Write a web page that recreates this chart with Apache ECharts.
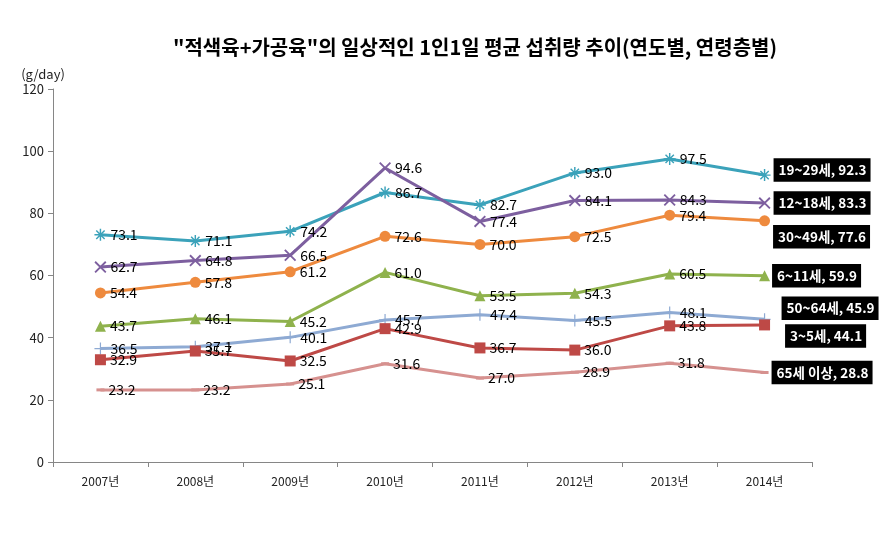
<!DOCTYPE html>
<html><head><meta charset="utf-8">
<script src="https://cdn.jsdelivr.net/npm/echarts@6/dist/echarts.min.js"></script>
<style>html,body{margin:0;padding:0;background:#fff}#c{width:880px;height:540px}</style>
</head><body><div id="c"></div>
<script>
const categories = ['2007년','2008년','2009년','2010년','2011년','2012년','2013년','2014년'];
const yTicks = [0,20,40,60,80,100,120];
const names = ['19~29세','12~18세','30~49세','6~11세','50~64세','3~5세','65세 이상'];
const v19_29 = [73.1,71.1,74.2,86.7,82.7,93.0,97.5,92.3];
const v12_18 = [62.7,64.8,66.5,94.6,77.4,84.1,84.3,83.3];
const v30_49 = [54.4,57.8,61.2,72.6,70.0,72.5,79.4,77.6];
const v6_11  = [43.7,46.1,45.2,61.0,53.5,54.3,60.5,59.9];
const v50_64 = [36.5,37.1,40.1,45.7,47.4,45.5,48.1,45.9];
const v3_5   = [32.9,35.7,32.5,42.9,36.7,36.0,43.8,44.1];
const v65    = [23.2,23.2,25.1,31.6,27.0,28.9,31.8,28.8];
const values = [v19_29,v12_18,v30_49,v6_11,v50_64,v3_5,v65];

const asterisk = 'path://M-0.6,-5L0.6,-5L0.6,5L-0.6,5Z M-5,-0.6L5,-0.6L5,0.6L-5,0.6Z M-3.9,-3.05L-3.05,-3.9L3.9,3.05L3.05,3.9Z M3.05,-3.9L3.9,-3.05L-3.05,3.9L-3.9,3.05Z';
const xmark = 'path://M-3.9,-3.05L-3.05,-3.9L3.9,3.05L3.05,3.9Z M3.05,-3.9L3.9,-3.05L-3.05,3.9L-3.9,3.05Z';
const plus = 'path://M-0.5,-5L0.5,-5L0.5,5L-0.5,5Z M-5,-0.5L5,-0.5L5,0.5L-5,0.5Z';
const styles = [
  {color:'#3BA2BA', symbol:asterisk, size:12, end:[-3,-5]},
  {color:'#7D5F9F', symbol:xmark, size:12, end:[-3,0]},
  {color:'#EE8A3E', symbol:'circle', size:11, end:[-3,16]},
  {color:'#8FB24D', symbol:'triangle', size:11, end:[-4,0]},
  {color:'#8EAAD3', symbol:plus, size:12, end:[5,-11]},
  {color:'#BE4946', symbol:'rect', size:11, end:[9,11]},
  {color:'#D6918F', symbol:'rect', size:[8,3], end:[-3,0]}
];
const font = "'Malgun Gothic','Noto Sans CJK KR',sans-serif";
const series = names.map((n,i)=>({
  name:n, type:'line', symbol:styles[i].symbol, symbolSize:styles[i].size,
  lineStyle:{width:3,color:styles[i].color},
  itemStyle:{color:styles[i].color},
  animation:false,
  label:{show:true, position:'right', distance:4, color:'#000', fontSize:14, fontFamily:font,
         formatter:p=>p.value.toFixed(1)},
  data: values[i].map((v,j)=> j===values[i].length-1 ? {value:v, label:{
     formatter:p=>n+', '+p.value.toFixed(1), backgroundColor:'#000', color:'#fff', fontWeight:'bold',
     fontSize:13.5, padding:[5,4,5,5], distance:6, offset:styles[i].end}} : v)
}));
const chart = echarts.init(document.getElementById('c'));
chart.setOption({
  backgroundColor:'#fff',
  title:{text:'"적색육+가공육"의 일상적인 1인1일 평균 섭취량 추이(연도별, 연령층별)', left:470, textAlign:'center', top:32,
    textStyle:{fontSize:20, fontWeight:'bold', color:'#000', fontFamily:font}},
  grid:{left:53, right:68, top:89, bottom:78},
  xAxis:{type:'category', data:categories, boundaryGap:true,
    axisLine:{lineStyle:{color:'#868686'}}, axisTick:{show:true, length:5, lineStyle:{color:'#868686'}},
    axisLabel:{color:'#222', fontSize:12, margin:13, fontFamily:font}},
  yAxis:{type:'value', min:yTicks[0], max:yTicks[yTicks.length-1], interval:20,
    name:'(g/day)', nameLocation:'end', nameGap:8, nameTextStyle:{color:'#222', fontSize:13, align:'center', padding:[0,20,0,0], fontFamily:font},
    axisLine:{show:true, lineStyle:{color:'#868686'}}, axisTick:{show:true, length:5, lineStyle:{color:'#868686'}},
    splitLine:{show:false}, axisLabel:{color:'#222', fontSize:13, margin:9, fontFamily:font}},
  series
});
</script></body></html>
